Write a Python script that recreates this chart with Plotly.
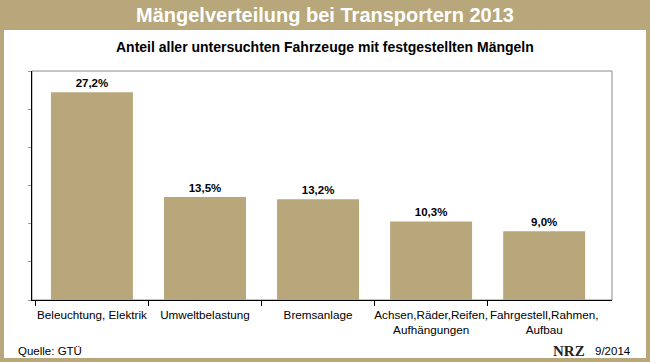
import plotly.graph_objects as go

categories = ["Beleuchtung, Elektrik", "Umweltbelastung", "Bremsanlage",
              "Achsen,Räder,Reifen,<br>Aufhängungen", "Fahrgestell,Rahmen,<br>Aufbau"]
values = [27.2, 13.5, 13.2, 10.3, 9.0]
positions = [0, 1, 2, 3, 4]
boundaries = [-0.5, 0.5, 1.5, 2.5, 3.5]

TAN = "#B8A77B"
W, H = 650, 362
L, R, T, B = 32, 38, 71, 62
pw, ph = W - L - R, H - T - B

def px(x):
    return (x - L) / pw

def py(y):
    return (H - B - y) / ph

fig = go.Figure()
fig.add_trace(go.Bar(
    x=positions, y=values, width=0.725, marker=dict(color=TAN, line=dict(width=0)),
    texttemplate="<b>%{y:.1f}%</b>", textposition="outside", cliponaxis=False,
    textfont=dict(family="Liberation Sans", size=11.5, color="#000000"),
))

fig.update_layout(
    width=W, height=H, margin=dict(l=L, r=R, t=T, b=B, autoexpand=False),
    paper_bgcolor=TAN, plot_bgcolor="#FFFFFF",
    separators=",.",
    showlegend=False,
    font=dict(family="Liberation Sans", size=11, color="#000000"),
    xaxis=dict(range=[-0.53, 4.6], tickvals=positions, ticktext=categories,
               ticks="", showgrid=False, zeroline=False, ticklabelstandoff=4,
               tickangle=0, automargin=False,
               showline=True, linecolor="#000000", linewidth=1,
               tickfont=dict(size=11.7, family="Liberation Sans", color="#000000"),
               minor=dict(tickvals=boundaries, ticks="outside", ticklen=5,
                          tickcolor="#000000", showgrid=False)),
    yaxis=dict(range=[0, 30], dtick=5, showticklabels=False, ticks="outside",
               ticklen=3, tickcolor="#999999", showgrid=False, zeroline=False,
               automargin=False,
               showline=True, linecolor="#000000", linewidth=1),
    shapes=[
        dict(type="rect", xref="paper", yref="paper", layer="below",
             x0=px(4), x1=px(646), y0=py(358), y1=py(30),
             fillcolor="#FFFFFF", line=dict(width=0)),
        dict(type="rect", xref="paper", yref="paper", layer="below",
             x0=0, x1=1, y0=0, y1=1,
             fillcolor="rgba(0,0,0,0)", line=dict(color="#8A8A8A", width=1)),
    ],
    annotations=[
        dict(text="<b>Mängelverteilung bei Transportern 2013</b>", xref="paper", yref="paper",
             x=px(325), y=py(15), showarrow=False, xanchor="center", yanchor="middle",
             font=dict(family="Liberation Sans", size=20, color="#FFFFFF")),
        dict(text="<b>Anteil aller untersuchten Fahrzeuge mit festgestellten Mängeln</b>",
             xref="paper", yref="paper", x=px(325), y=py(47), showarrow=False,
             xanchor="center", yanchor="middle",
             font=dict(family="Liberation Sans", size=14, color="#000000")),
        dict(text="Quelle: GTÜ", xref="paper", yref="paper", x=px(16), y=py(351),
             showarrow=False, xanchor="left", yanchor="middle",
             font=dict(family="Liberation Sans", size=11.5, color="#000000")),
        dict(text="9/2014", xref="paper", yref="paper", x=px(633), y=py(351),
             showarrow=False, xanchor="right", yanchor="middle",
             font=dict(family="Liberation Sans", size=11.5, color="#000000")),
        dict(text="<b>NRZ</b>", xref="paper", yref="paper", x=px(587), y=py(351),
             showarrow=False, xanchor="right", yanchor="middle",
             font=dict(family="Liberation Serif", size=15, color="#222222")),
    ],
)

fig.write_html("out.html", config={"displayModeBar": False},
               post_script="document.body.style.margin='0px';")
